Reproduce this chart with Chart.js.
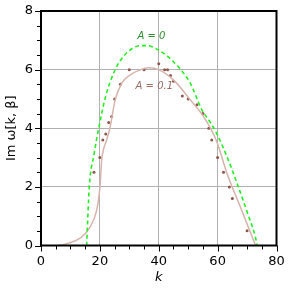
<!DOCTYPE html>
<html>
<head>
<meta charset="utf-8">
<script src="https://cdn.jsdelivr.net/npm/chart.js@4"></script>
<style>
  html, body { margin: 0; padding: 0; background: #fff; }
  #wrap { width: 291px; height: 289px; }
</style>
</head>
<body>
<div id="wrap"><canvas id="chart" width="291" height="289"></canvas></div>
<script>
// curve A = 0
var greenK = [15.5, 16.4, 18, 19.6, 22, 25.2, 28, 31, 33.7, 36, 39.9, 43, 45, 47.3, 50.7, 54.7, 57.5, 59.8, 63.5, 66.6, 70, 72.8, 73.4];
var greenY = [0, 2.0, 3.1, 4.0, 5.1, 6.0, 6.45, 6.72, 6.82, 6.82, 6.67, 6.45, 6.27, 6.02, 5.54, 4.62, 4.2, 3.8, 2.95, 2.12, 1.15, 0.3, 0];

// curve A = 0.1
var brownK = [5.9, 9, 13.3, 16.5, 18.9, 19.8, 20.1, 20.6, 21.3, 22.3, 23.5, 25.2, 27.4, 30.3, 33.7, 36.5, 39.9, 45, 50.7, 55.2, 59.5, 63.2, 67.7, 72.9];
var brownY = [0, 0.07, 0.25, 0.6, 1.2, 1.78, 2.1, 2.9, 3.3, 3.6, 4.05, 4.97, 5.53, 5.82, 5.99, 6.06, 6.0, 5.65, 4.97, 4.4, 3.6, 2.46, 1.32, 0];

// simulation points
var dotK = [18, 20, 21, 22, 23, 24, 25, 27, 30, 35, 40, 42, 43, 44, 45, 48, 50, 53, 55, 57, 58, 60, 62, 64, 65, 70];
var dotY = [2.5, 3.0, 3.6, 3.8, 4.2, 4.4, 5.0, 5.5, 6.0, 6.0, 6.2, 6.0, 6.0, 5.8, 5.6, 5.1, 5.0, 4.8, 4.5, 4.0, 3.6, 3.0, 2.5, 2.0, 1.6, 0.5];

var xMajor = [0, 20, 40, 60, 80];
var yMajor = [0, 2, 4, 6, 8];

function pairs(xs, ys) {
    return xs.map(function(x, i) { return { x: x, y: ys[i] }; });
}

// frame, minor/major ticks and curve labels
var decorations = {
    id: 'decorations',
    afterDraw: function(chart) {
        var ctx = chart.ctx;
        var a = chart.chartArea;
        var xs = chart.scales.x, ys = chart.scales.y;
        ctx.save();
        ctx.strokeStyle = '#000';
        ctx.lineWidth = 1;
        for (var k = 0; k <= 80; k += 5) {
            var px = Math.round(xs.getPixelForValue(k)) + 0.5;
            var len = (k % 20 === 0) ? 5 : 3;
            ctx.beginPath();
            ctx.moveTo(px, a.bottom);
            ctx.lineTo(px, a.bottom + len + 1);
            ctx.stroke();
        }
        for (var v = 0; v <= 8; v += 0.5) {
            var py = Math.round(ys.getPixelForValue(v)) + 0.5;
            var ln = (v % 2 === 0) ? 5 : 3;
            ctx.beginPath();
            ctx.moveTo(a.left, py);
            ctx.lineTo(a.left - ln - 1, py);
            ctx.stroke();
        }
        ctx.lineWidth = 2;
        ctx.strokeRect(a.left, a.top, a.right - a.left, a.bottom - a.top);

        ctx.textAlign = 'center';
        ctx.textBaseline = 'middle';
        ctx.font = 'italic 10px "DejaVu Sans"';
        ctx.fillStyle = '#2b8c2b';
        ctx.fillText('A = 0', xs.getPixelForValue(37.5), ys.getPixelForValue(7.13));
        ctx.fillStyle = '#9a6d64';
        ctx.fillText('A = 0.1', xs.getPixelForValue(38.5), ys.getPixelForValue(5.42));
        ctx.restore();
    }
};

new Chart(document.getElementById('chart').getContext('2d'), {
    type: 'scatter',
    data: {
        datasets: [{
            label: 'A = 0',
            data: pairs(greenK, greenY),
            showLine: true,
            borderColor: '#22ee22',
            borderWidth: 1.6,
            borderDash: [4, 3],
            pointRadius: 0,
            cubicInterpolationMode: 'monotone'
        }, {
            label: 'A = 0.1',
            data: pairs(brownK, brownY),
            showLine: true,
            borderColor: '#d7b3ac',
            borderWidth: 1.5,
            pointRadius: 0,
            cubicInterpolationMode: 'monotone'
        }, {
            label: 'points',
            data: pairs(dotK, dotY),
            showLine: false,
            pointRadius: 1.5,
            pointBackgroundColor: '#8c564b',
            pointBorderWidth: 0
        }]
    },
    options: {
        responsive: false,
        animation: false,
        layout: { padding: { top: 11, right: 14.5, left: 0, bottom: 0 } },
        plugins: {
            legend: { display: false },
            tooltip: { enabled: false }
        },
        scales: {
            x: {
                type: 'linear',
                min: 0,
                max: 80,
                afterFit: function(s) { s.height = 43.5; s.paddingLeft = 0; s.paddingRight = 0; },
                border: { display: false },
                grid: {
                    drawTicks: false,
                    color: function(c) {
                        var v = c.tick.value;
                        return (v > 0 && v < 80 && v % 20 === 0) ? '#b0b0b0' : 'rgba(0,0,0,0)';
                    }
                },
                ticks: {
                    stepSize: 5,
                    maxRotation: 0,
                    autoSkip: false,
                    padding: 8,
                    color: '#000',
                    font: { family: 'DejaVu Sans', size: 13 },
                    callback: function(v) { return xMajor.indexOf(v) >= 0 ? String(v) : ''; }
                },
                title: {
                    display: true,
                    text: 'k',
                    color: '#000',
                    padding: { top: 0 },
                    font: { family: 'DejaVu Sans', size: 13, style: 'italic' }
                }
            },
            y: {
                min: 0,
                max: 8,
                afterFit: function(s) { s.width = 41; s.paddingTop = 0; s.paddingBottom = 0; },
                border: { display: false },
                grid: {
                    drawTicks: false,
                    color: function(c) {
                        var v = c.tick.value;
                        return (v > 0 && v < 8 && v % 2 === 0) ? '#b0b0b0' : 'rgba(0,0,0,0)';
                    }
                },
                ticks: {
                    stepSize: 0.5,
                    autoSkip: false,
                    padding: 8,
                    color: '#000',
                    font: { family: 'DejaVu Sans', size: 13 },
                    callback: function(v) { return yMajor.indexOf(v) >= 0 ? String(v) : ''; }
                },
                title: {
                    display: true,
                    text: 'Im ω[k, β]',
                    color: '#000',
                    padding: { bottom: 0 },
                    font: { family: 'DejaVu Sans', size: 13 }
                }
            }
        }
    },
    plugins: [decorations]
});
</script>
</body>
</html>
